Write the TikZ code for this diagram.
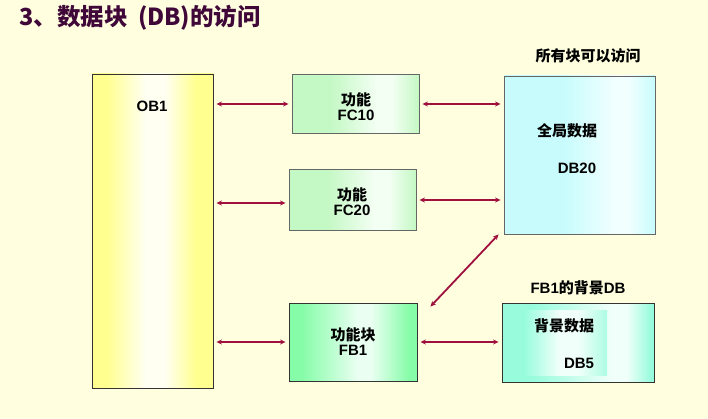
\documentclass[tikz,border=0pt]{standalone}
\usepackage{fontspec}
\setmainfont{Liberation Sans}
\newfontfamily\cjk{Noto Sans CJK SC}
\usetikzlibrary{arrows.meta}
\definecolor{bgc}{HTML}{FFFFE0}
\definecolor{titlec}{HTML}{3F0838}
\definecolor{arrc}{HTML}{A0103F}
\definecolor{edgec}{HTML}{333333}
% OB1 yellow
\definecolor{ya}{HTML}{FFFF90}
\definecolor{yb}{HTML}{FFFFF2}
\pgfdeclarehorizontalshading{obshade}{100bp}{color(0bp)=(ya); color(25bp)=(ya); color(31bp)=(ya); color(47bp)=(yb); color(55bp)=(yb); color(68bp)=(ya); color(75bp)=(ya); color(100bp)=(ya)}
% light green FC
\definecolor{ga}{HTML}{C4F8C4}
\definecolor{gb}{HTML}{F4FFF4}
\pgfdeclarehorizontalshading{fcshade}{100bp}{color(0bp)=(ga); color(25bp)=(ga); color(40bp)=(ga); color(59bp)=(gb); color(64bp)=(gb); color(75bp)=(ga); color(100bp)=(ga)}
% bright green FB
\definecolor{fa}{HTML}{86FCA8}
\definecolor{fb}{HTML}{EAFFF2}
\pgfdeclarehorizontalshading{fbshade}{100bp}{color(0bp)=(fa); color(25bp)=(fa); color(30bp)=(fa); color(52bp)=(fb); color(57bp)=(fb); color(72bp)=(fa); color(75bp)=(fa); color(100bp)=(fa)}
% cyan DB20
\definecolor{ca}{HTML}{C8FCFC}
\definecolor{cb}{HTML}{F2FFFF}
\pgfdeclarehorizontalshading{dbshade}{100bp}{color(0bp)=(ca); color(25bp)=(ca); color(45bp)=(ca); color(62bp)=(cb); color(66bp)=(cb); color(75bp)=(ca); color(100bp)=(ca)}
% aquamarine DB5
\definecolor{aa}{HTML}{98FCDC}
\definecolor{ab}{HTML}{F0FFFA}
\pgfdeclarehorizontalshading{dbfshade}{100bp}{color(0bp)=(aa); color(25bp)=(aa); color(35bp)=(aa); color(61bp)=(ab); color(66bp)=(ab); color(74bp)=(aa); color(75bp)=(aa); color(100bp)=(aa)}
\pgfdeclarehorizontalshading{innershade}{100bp}{color(0bp)=(aa); color(25bp)=(aa); color(46bp)=(ab); color(58bp)=(ab); color(75bp)=(aa!80!white); color(100bp)=(aa!80!white)}
\begin{document}
\begin{tikzpicture}[x=1pt,y=-1pt,
  blk/.style={draw=edgec, line width=0.9pt, inner sep=0pt},
  lbl/.style={font=\fontsize{15}{17}\selectfont\bfseries, align=center, inner sep=0pt},
  cjklbl/.style={font=\cjk\fontsize{15}{17}\selectfont\bfseries, align=center, inner sep=0pt},
  arr/.style={draw=arrc, line width=1.8pt, {Stealth[length=5.5pt,width=5pt]}-{Stealth[length=5.5pt,width=5pt]}, shorten <=3pt, shorten >=3pt}]
\fill[bgc] (0,0) rectangle (708,419);
\useasboundingbox (0,0) rectangle (708,419);
\node[anchor=west, text=titlec, font=\cjk\fontsize{23.5}{26}\selectfont\bfseries, inner sep=0pt] (title) at (19,18) {3、数据块\hspace{0.45em}(DB)的访问};
% boxes
\node[blk, shading=obshade, minimum width=121pt, minimum height=314pt] (ob1) at (152.5,231) {};
\node[blk, draw=gray!80!black, shading=fcshade, minimum width=127pt, minimum height=59pt] (fc10) at (355.5,104) {};
\node[blk, draw=gray!80!black, shading=fcshade, minimum width=127pt, minimum height=61pt] (fc20) at (352.5,200) {};
\node[blk, shading=fbshade, minimum width=128pt, minimum height=78pt] (fb1) at (353,342) {};
\node[blk, draw=gray!80!black, shading=dbshade, minimum width=151pt, minimum height=158pt] (db20) at (579.5,155) {};
\node[blk, shading=dbfshade, minimum width=152pt, minimum height=79pt] (db5) at (578,342.5) {};
\node[inner sep=0pt, shading=innershade, minimum width=83pt, minimum height=65pt] (db5in) at (565.5,342.5) {};
% labels
\node[lbl] (tob1) at (152,106) {OB1};
\node[lbl] (tfc10) at (356,107) {{\cjk 功能}\\[-2pt]FC10};
\node[lbl] (tfc20) at (352,202) {{\cjk 功能}\\[-2pt]FC20};
\node[lbl] (tfb1) at (353,342) {{\cjk 功能块}\\[-2pt]FB1};
\node[cjklbl] (tglob) at (567,131) {全局数据};
\node[lbl] (tdb20) at (577,168) {DB20};
\node[cjklbl] (tbg) at (564,326) {背景数据};
\node[lbl] (tdb5) at (579,363) {DB5};
\node[cjklbl] (tall) at (588,56) {所有块可以访问};
\node[lbl] (tfbdb) at (578,288) {FB1{\cjk 的背景}DB};
% connectors
\draw[arr] (ob1.east |- fc10.west) -- (fc10.west);
\draw[arr] (fc10.east) -- (fc10.east -| db20.west);
\draw[arr] ([yshift=-3pt]ob1.east |- fc20.west) -- ([yshift=-3pt]fc20.west);
\draw[arr] (fc20.east) -- (fc20.east -| db20.west);
\draw[arr] (ob1.east |- fb1.west) -- (fb1.west);
\draw[arr] (fb1.east) -- (fb1.east -| db5.west);
\draw[arr, shorten <=0pt, shorten >=0pt] ([xshift=13pt,yshift=-4pt]fb1.north east) -- ([xshift=-5pt,yshift=0pt]db20.south west);
\end{tikzpicture}
\end{document}
